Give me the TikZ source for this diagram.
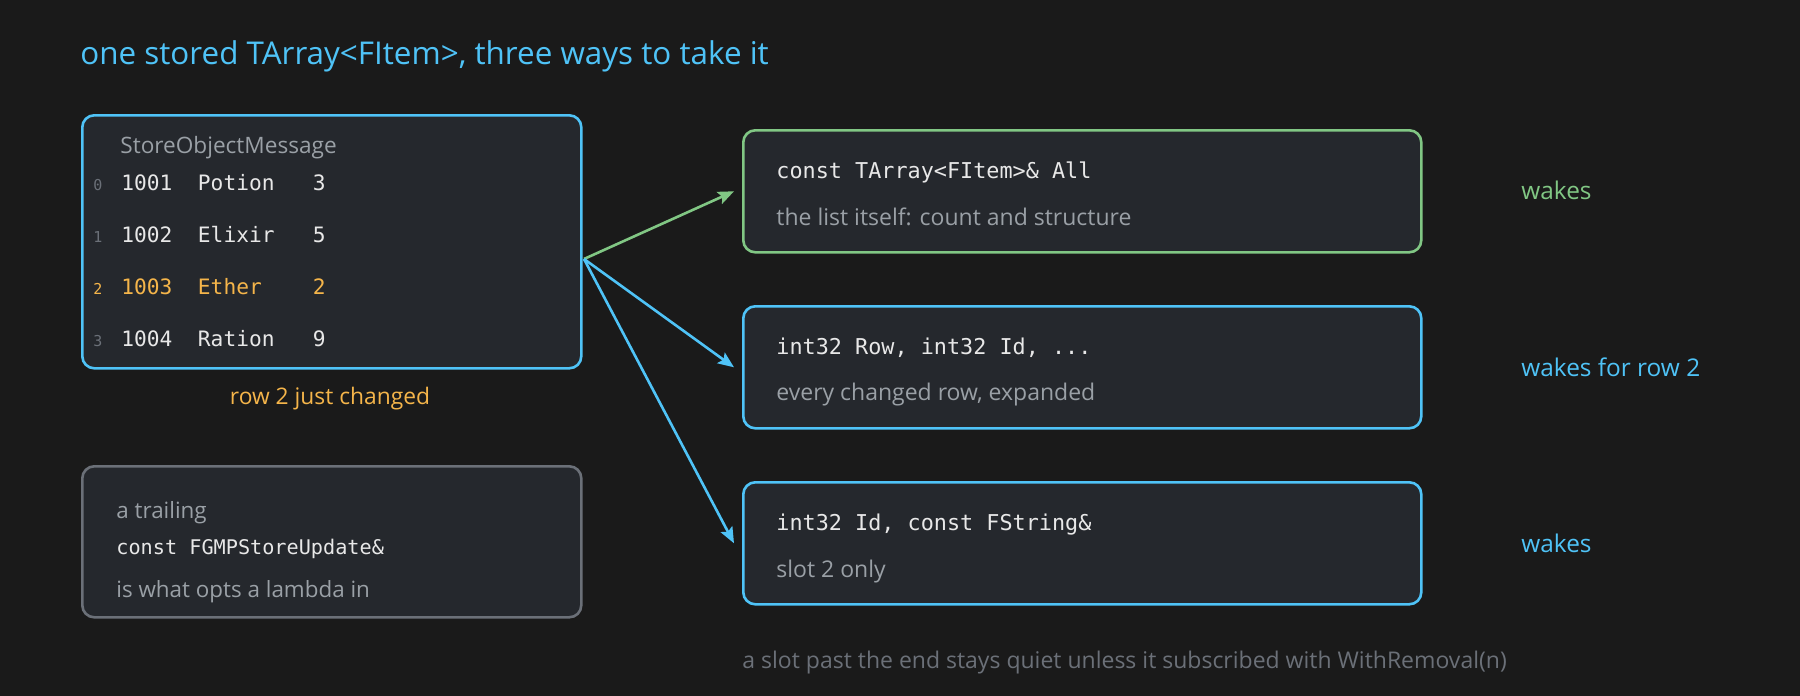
\documentclass[tikz,border=0pt]{standalone}
\usepackage{fontspec}
\setmainfont{Open Sans}
\setmonofont{DejaVu Sans Mono}
\usetikzlibrary{arrows.meta}
\usetikzlibrary{positioning}

\definecolor{bgdark}{HTML}{1A1A1A}
\definecolor{panelfill}{HTML}{25282D}
\definecolor{cblue}{HTML}{4FC3F7}
\definecolor{cgreen}{HTML}{81C784}
\definecolor{corange}{HTML}{F5B54A}
\definecolor{codewhite}{HTML}{E8E8E8}
\definecolor{notegray}{HTML}{9AA0A6}
\definecolor{dimgray}{HTML}{6B7078}

\tikzset{
  panel/.style={draw, line width=1.3pt, rounded corners=6pt, fill=panelfill,
    anchor=north west, inner sep=0pt},
  code/.style={anchor=base west, inner sep=0pt, text=codewhite,
    font=\ttfamily\fontsize{10.9}{13}\selectfont},
  rowcode/.style={code, font=\ttfamily\fontsize{10.6}{13}\selectfont},
  smallcode/.style={code, font=\ttfamily\fontsize{10.1}{12}\selectfont},
  idx/.style={anchor=base west, inner sep=0pt, text=dimgray,
    font=\ttfamily\fontsize{7.5}{9}\selectfont},
  note/.style={anchor=base west, inner sep=0pt, text=notegray,
    font=\fontsize{11.5}{14}\selectfont},
  hintnote/.style={note, font=\fontsize{11.2}{13}\selectfont},
  wake/.style={anchor=base west, inner sep=0pt, font=\fontsize{12.2}{15}\selectfont},
  fan/.style={line width=1.3pt, -{Stealth[length=8pt,width=6.5pt,inset=1.5pt]}},
}

\begin{document}
\begin{tikzpicture}[x=0.5pt,y=-0.5pt]
	\useasboundingbox[fill=bgdark] (0,0) rectangle (1800,696);

	\node[anchor=base west, inner sep=0pt, text=cblue, font=\fontsize{15.7}{19}\selectfont] (title) at (80,64) {one stored TArray<FItem>, three ways to take it};

	% the stored array
	\node[panel, draw=cblue, minimum width=249.5pt, minimum height=126.5pt] (store) at (81,114) {};
	\node[note, font=\fontsize{11.3}{13}\selectfont] (msg) at (120,153) {StoreObjectMessage};
	\node[idx] (i0) at (93,190) {0};
	\node[rowcode] (r0) at (121,190) {1001\ \ Potion\ \ \ 3};
	\node[idx] (i1) at (93,242) {1};
	\node[rowcode] (r1) at (121,242) {1002\ \ Elixir\ \ \ 5};
	\node[idx, text=corange] (i2) at (93,294) {2};
	\node[rowcode, text=corange] (r2) at (121,294) {1003\ \ Ether\ \ \ \ 2};
	\node[idx] (i3) at (93,346) {3};
	\node[rowcode] (r3) at (121,346) {1004\ \ Ration\ \ \ 9};
	\node[anchor=base, inner sep=0pt, text=corange, font=\fontsize{11.4}{13}\selectfont] (changed) at (330,404) {row 2 just changed};

	% trailing parameter hint
	\node[panel, draw=dimgray, minimum width=249.5pt, minimum height=75.5pt] (hint) at (81,465) {};
	\node[hintnote] (hint1) at (116,518) {a trailing};
	\node[smallcode] (hint2) at (116,554) {const FGMPStoreUpdate\&};
	\node[hintnote] (hint3) at (116,597) {is what opts a lambda in};

	% three signatures
	\node[panel, draw=cgreen, minimum width=339pt, minimum height=61pt] (whole) at (742,129) {};
	\node[code] (whole1) at (776,178) {const TArray<FItem>\& All};
	\node[note] (whole2) at (776,225) {the list itself: count and structure};

	\node[panel, draw=cblue, minimum width=339pt, minimum height=61pt] (rows) at (742,305) {};
	\node[code] (rows1) at (776,354) {int32 Row, int32 Id, ...};
	\node[note] (rows2) at (776,400) {every changed row, expanded};

	\node[panel, draw=cblue, minimum width=339pt, minimum height=61pt] (slot) at (742,481) {};
	\node[code] (slot1) at (776,530) {int32 Id, const FString\&};
	\node[note] (slot2) at (776,577) {slot 2 only};

	\node[wake, text=cgreen] (wake1) at (1521,199) {wakes};
	\node[wake, text=cblue] (wake2) at (1521,376) {wakes for row 2};
	\node[wake, text=cblue] (wake3) at (1521,552) {wakes};

	\coordinate (fan) at (584,259);
	\draw[fan, color=cgreen] (fan) -- ([xshift=-4pt]whole.west);
	\draw[fan, color=cblue] (fan) -- ([xshift=-4pt]rows.west);
	\draw[fan, color=cblue] (fan) -- ([xshift=-4pt]slot.west);

	\node[note, text=dimgray, font=\fontsize{11.5}{14}\selectfont] (foot) at (742,668) {a slot past the end stays quiet unless it subscribed with WithRemoval(n)};
\end{tikzpicture}
\end{document}
